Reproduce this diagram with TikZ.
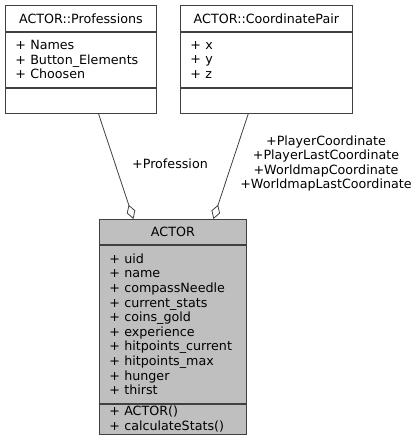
\documentclass[tikz,border=0pt]{standalone}
\usepackage{fontspec}
\setmainfont{DejaVu Sans}
\usetikzlibrary{arrows.meta, positioning}
\definecolor{edgeGray}{HTML}{404040}
\definecolor{classFill}{HTML}{BFBFBF}

\begin{document}
\begin{tikzpicture}[
    x=1pt, y=-1pt,
    part/.style={rectangle, draw=edgeGray, fill=white, line width=0.8pt, anchor=north west,
                 inner xsep=10pt, inner ysep=0pt, align=left,
                 font=\fontsize{12.7}{14.6}\selectfont},
    head/.style={part, align=center},
    focus/.style={fill=classFill},
    aggr/.style={{Diamond[open, length=15pt, width=9pt]}-, draw=edgeGray, line width=0.8pt},
    role/.style={align=center, inner sep=0pt, font=\fontsize{12.7}{14.3}\selectfont},
]
\useasboundingbox (0,0) rectangle (419,448);

% ACTOR::Professions
\node[head, text width=131pt, minimum height=26pt] (prof_head) at (5,5) {ACTOR::Professions};
\node[part, text width=131pt, minimum height=55pt] (prof_attr) at (prof_head.south west) {+ Names\\+ Button\_Elements\\+ Choosen};
\node[part, text width=131pt, minimum height=25pt] (prof_ops) at (prof_attr.south west) {};

% ACTOR::CoordinatePair
\node[head, text width=152pt, minimum height=26pt] (coord_head) at (180,5) {ACTOR::CoordinatePair};
\node[part, text width=152pt, minimum height=55pt] (coord_attr) at (coord_head.south west) {+ x\\+ y\\+ z};
\node[part, text width=152pt, minimum height=25pt] (coord_ops) at (coord_attr.south west) {};

% ACTOR
\node[head, focus, text width=127pt, minimum height=25pt] (actor_head) at (99,219) {ACTOR};
\node[part, focus, text width=127pt, minimum height=158pt] (actor_attr) at (actor_head.south west)
    {+ uid\\+ name\\+ compassNeedle\\+ current\_stats\\+ coins\_gold\\+ experience\\+ hitpoints\_current\\+ hitpoints\_max\\+ hunger\\+ thirst};
\node[part, focus, text width=127pt, minimum height=30pt] (actor_ops) at (actor_attr.south west) {+ ACTOR()\\+ calculateStats()};

% Roles
\node[role] (prof_role) at (170,164) {+Profession};
\node[role] (coord_role) at (326,163.5) {+PlayerCoordinate\\+PlayerLastCoordinate\\+WorldmapCoordinate\\+WorldmapLastCoordinate};

% Aggregations
\draw[aggr] ([xshift=-39.5pt]actor_head.north) -- ([xshift=17.5pt]prof_ops.south);
\draw[aggr] ([xshift=40.5pt]actor_head.north) -- ([xshift=-18pt]coord_ops.south);

\end{tikzpicture}
\end{document}
